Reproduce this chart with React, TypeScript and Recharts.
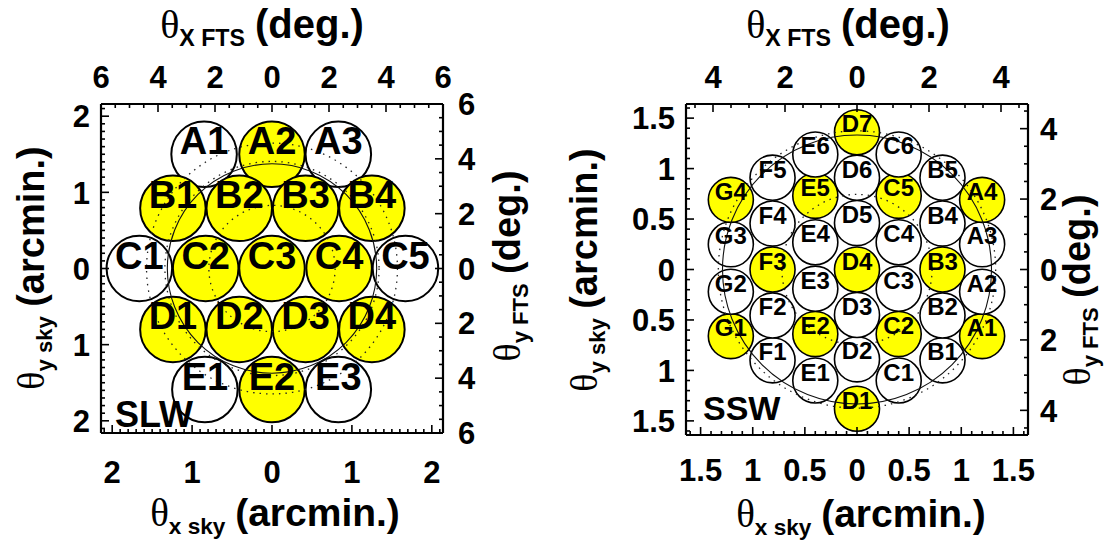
import React from 'react';
import { ScatterChart, Scatter, XAxis, YAxis } from 'recharts';

const FONT = '"Liberation Sans", Arial, Helvetica, sans-serif';
const SYM = '"Liberation Serif", "DejaVu Serif", serif';

// SLW detector array, positions in arcmin on the sky
const slwNames = ['A1', 'A2', 'A3', 'B1', 'B2', 'B3', 'B4', 'C1', 'C2', 'C3', 'C4', 'C5', 'D1', 'D2', 'D3', 'D4', 'E1', 'E2', 'E3'];
const slwX = [-0.85, 0, 0.83, -1.24, -0.41, 0.42, 1.25, -1.66, -0.83, 0, 0.84, 1.67, -1.24, -0.41, 0.42, 1.25, -0.84, 0, 0.83];
const slwY = [1.5, 1.5, 1.5, 0.79, 0.79, 0.79, 0.79, 0, 0, 0, 0, 0, -0.8, -0.8, -0.8, -0.8, -1.59, -1.59, -1.59];
const slwYellow = ['A2', 'B1', 'B2', 'B3', 'B4', 'C2', 'C3', 'C4', 'D1', 'D2', 'D3', 'D4', 'E2'];
const slwBeamRadius = 0.41;
const slwFieldRadius = [1.31];
const slwDottedRadius = [0.79, 1.34, 1.57];

// SSW detector array, positions in arcmin on the sky
const sswNames = [
  'A1', 'A2', 'A3', 'A4',
  'B1', 'B2', 'B3', 'B4', 'B5',
  'C1', 'C2', 'C3', 'C4', 'C5', 'C6',
  'D1', 'D2', 'D3', 'D4', 'D5', 'D6', 'D7',
  'E1', 'E2', 'E3', 'E4', 'E5', 'E6',
  'F1', 'F2', 'F3', 'F4', 'F5',
  'G1', 'G2', 'G3', 'G4',
];
const sswX = [
  1.2, 1.2, 1.2, 1.2,
  0.82, 0.82, 0.82, 0.82, 0.82,
  0.4, 0.4, 0.4, 0.4, 0.4, 0.4,
  0, 0, 0, 0, 0, 0, 0,
  -0.4, -0.4, -0.4, -0.4, -0.4, -0.4,
  -0.81, -0.81, -0.81, -0.81, -0.81,
  -1.21, -1.21, -1.21, -1.21,
];
const sswY = [
  -0.66, -0.22, 0.25, 0.69,
  -0.9, -0.455, 0, 0.455, 0.91,
  -1.1, -0.64, -0.19, 0.27, 0.73, 1.14,
  -1.38, -0.89, -0.45, 0, 0.46, 0.91, 1.36,
  -1.1, -0.64, -0.19, 0.27, 0.73, 1.14,
  -0.9, -0.455, 0, 0.455, 0.91,
  -0.66, -0.22, 0.25, 0.69,
];
const sswYellow = ['A1', 'A4', 'B3', 'C2', 'C5', 'D1', 'D4', 'D7', 'E2', 'E5', 'F3', 'G1', 'G4'];
const sswBeamRadius = 0.216;
const sswFieldRadius = [1.29];
const sswDottedRadius = [0.72, 1.33];

// tick labels
const slwSkyTicks = [-2, -1, 0, 1, 2];
const slwFtsTicks = [-6, -4, -2, 0, 2, 4, 6];
const sswSkyTicks = [-1.5, -1, -0.5, 0, 0.5, 1, 1.5];
const sswFtsTicks = [-4, -2, 0, 2, 4];

// FTS frame origin, used to anchor the secondary (degree) axes
const ftsOrigin = [{ fx: 0, fy: 0 }];

const minorTicks = (half: number, step: number) => {
  const out: number[] = [];
  const n = Math.floor(half / step + 1e-6);
  for (let i = -n; i <= n; i++) out.push(Math.round(i * step * 1000) / 1000);
  return out;
};

const fmt = (v: number) => String(Math.abs(v));

// edge = pixel position of the plot border on that side (inward ticks, labels outside)
function makeTick(side: string, majors: number[], gap: number, edge: number) {
  const fs = 31;
  return (p: any) => {
    const { x, y, payload } = p;
    const v = payload.value;
    const major = majors.some((m) => Math.abs(m - v) < 1e-6);
    const len = major ? 8 : 4;
    let line: number[] = [];
    let tx = x;
    let ty = y;
    let anchor = 'middle';
    if (side === 'bottom') { line = [x, edge, x, edge - len]; ty = edge + gap + fs * 0.72; }
    if (side === 'top') { line = [x, edge, x, edge + len]; ty = edge - gap; }
    if (side === 'left') { line = [edge, y, edge + len, y]; tx = edge - gap; ty = y + fs * 0.36; anchor = 'end'; }
    if (side === 'right') { line = [edge, y, edge - len, y]; tx = edge + gap; ty = y + fs * 0.36; anchor = 'start'; }
    return (
      <g>
        <line x1={line[0]} y1={line[1]} x2={line[2]} y2={line[3]} stroke="#000" strokeWidth={1.6} />
        {major && (
          <text x={tx} y={ty} textAnchor={anchor} fontFamily={FONT} fontWeight="bold" fontSize={fs} fill="#000">
            {fmt(v)}
          </text>
        )}
      </g>
    );
  };
}

function AxisTitle({ x, y, sub, rest, fs, rotate }: any) {
  return (
    <text
      x={x}
      y={y}
      textAnchor="middle"
      fontFamily={FONT}
      fontWeight="bold"
      fontSize={fs}
      fill="#000"
      transform={rotate ? `rotate(-90 ${x} ${y})` : undefined}
    >
      <tspan fontFamily={SYM} fontWeight="normal">θ</tspan>
      <tspan fontSize={fs * 0.58} dy={fs * 0.2}>{sub}</tspan>
      <tspan dy={-fs * 0.2} dx={fs * 0.25}>{rest}</tspan>
    </text>
  );
}

function Panel(props: any) {
  const { left, width, height, axes, skyHalf, ftsHalfX, ftsHalfY, skyTicks, ftsTicks, skyMinor, ftsMinor, gaps,
    names, xs, ys, yellow, beamR, field, dotted, labelFs, strokeW } = props;
  const plotW = width - axes.left - axes.right;
  const ppu = plotW / (2 * skyHalf[0]);
  const edges = { top: axes.top, bottom: height - axes.bottom, left: axes.left, right: width - axes.right };
  const beams = names.map((n: string, i: number) => ({ name: n, x: xs[i], y: ys[i], lit: yellow.includes(n) }));
  const rings = field.map((r: number) => ({ x: 0, y: 0, r }));
  const dots = dotted.map((r: number) => ({ x: 0, y: 0, r }));
  const axisLine = { stroke: '#000', strokeWidth: 2.2 };
  return (
    <div style={{ position: 'absolute', left, top: 0 }}>
      <ScatterChart width={width} height={height} margin={{ top: 0, right: 0, bottom: 0, left: 0 }}>
        <XAxis xAxisId="fts" orientation="top" type="number" dataKey="fx" scale="linear" domain={[-ftsHalfX, ftsHalfX]}
          ticks={ftsMinor} interval={0} height={axes.top} tickSize={0} tickMargin={0} tickLine={false}
          axisLine={axisLine} tick={makeTick('top', ftsTicks, gaps.top, edges.top)} allowDataOverflow />
        <XAxis xAxisId="sky" orientation="bottom" type="number" dataKey="x" scale="linear" domain={[-skyHalf[0], skyHalf[0]]}
          ticks={skyMinor} interval={0} height={axes.bottom} tickSize={0} tickMargin={0} tickLine={false}
          axisLine={axisLine} tick={makeTick('bottom', skyTicks, gaps.bottom, edges.bottom)} allowDataOverflow />
        <YAxis yAxisId="sky" orientation="left" type="number" dataKey="y" domain={[-skyHalf[1], skyHalf[1]]}
          ticks={skyMinor.filter((t: number) => Math.abs(t) <= skyHalf[1])} interval={0} width={axes.left}
          tickSize={0} tickMargin={0} tickLine={false} axisLine={axisLine}
          tick={makeTick('left', skyTicks, gaps.left, edges.left)} allowDataOverflow />
        <YAxis yAxisId="fts" orientation="right" type="number" dataKey="fy" domain={[-ftsHalfY, ftsHalfY]}
          ticks={ftsMinor.filter((t: number) => Math.abs(t) <= ftsHalfY)} interval={0} width={axes.right}
          tickSize={0} tickMargin={0} tickLine={false} axisLine={axisLine}
          tick={makeTick('right', ftsTicks, gaps.right, edges.right)} allowDataOverflow />
        <Scatter xAxisId="fts" yAxisId="fts" data={ftsOrigin} isAnimationActive={false}
          shape={() => <g />} />
        <Scatter xAxisId="sky" yAxisId="sky" data={beams} isAnimationActive={false}
          shape={(p: any) => (
            <circle cx={p.cx} cy={p.cy} r={beamR * ppu} fill={p.payload.lit ? '#ffff00' : '#ffffff'}
              stroke="#000" strokeWidth={strokeW} />
          )} />
        <Scatter xAxisId="sky" yAxisId="sky" data={dots} isAnimationActive={false}
          shape={(p: any) => (
            <circle cx={p.cx} cy={p.cy} r={p.payload.r * ppu} fill="none" stroke="#222"
              strokeWidth={1.3} strokeDasharray="1.5 5" />
          )} />
        <Scatter xAxisId="sky" yAxisId="sky" data={rings} isAnimationActive={false}
          shape={(p: any) => (
            <circle cx={p.cx} cy={p.cy} r={p.payload.r * ppu} fill="none" stroke="#111" strokeWidth={1.1} />
          )} />
        <Scatter xAxisId="sky" yAxisId="sky" data={beams} isAnimationActive={false}
          shape={(p: any) => (
            <text x={p.cx} y={p.cy} textAnchor="middle" fontFamily={FONT} fontWeight="bold" fontSize={labelFs} fill="#000">
              {p.payload.name}
            </text>
          )} />
      </ScatterChart>
    </div>
  );
}

export default function App() {
  return (
    <div style={{ position: 'absolute', left: 0, top: 0, width: 1107, height: 540, background: '#fff', overflow: 'hidden' }}>
      <Panel
        left={0} width={550} height={540}
        axes={{ top: 104, bottom: 107, left: 101, right: 107 }}
        skyHalf={[2.14, 2.16]} ftsHalfX={6} ftsHalfY={6}
        skyTicks={slwSkyTicks} ftsTicks={slwFtsTicks}
        skyMinor={minorTicks(2.1, 0.1)} ftsMinor={minorTicks(6, 0.5)}
        gaps={{ bottom: 28, top: 16, left: 11, right: 15 }}
        names={slwNames} xs={slwX} ys={slwY} yellow={slwYellow}
        beamR={slwBeamRadius} field={slwFieldRadius} dotted={slwDottedRadius}
        labelFs={38} strokeW={2}
      />
      <Panel
        left={553} width={554} height={540}
        axes={{ top: 104, bottom: 105, left: 133, right: 79 }}
        skyHalf={[1.64, 1.64]} ftsHalfX={4.75} ftsHalfY={4.7}
        skyTicks={sswSkyTicks} ftsTicks={sswFtsTicks}
        skyMinor={minorTicks(1.6, 0.1)} ftsMinor={minorTicks(4.5, 0.5)}
        gaps={{ bottom: 24, top: 16, left: 11, right: 12 }}
        names={sswNames} xs={sswX} ys={sswY} yellow={sswYellow}
        beamR={sswBeamRadius} field={sswFieldRadius} dotted={sswDottedRadius}
        labelFs={24} strokeW={1.6}
      />
      <svg width={1107} height={540} style={{ position: 'absolute', left: 0, top: 0, pointerEvents: 'none' }}>
        <AxisTitle x={262} y={38} sub="X FTS" rest="(deg.)" fs={40} />
        <AxisTitle x={275} y={526} sub="x sky" rest="(arcmin.)" fs={39} />
        <AxisTitle x={44} y={268} sub="y sky" rest="(arcmin.)" fs={38} rotate />
        <AxisTitle x={520} y={266} sub="y FTS" rest="(deg.)" fs={38} rotate />
        <AxisTitle x={848} y={38} sub="X FTS" rest="(deg.)" fs={40} />
        <AxisTitle x={861} y={527} sub="x sky" rest="(arcmin.)" fs={39} />
        <AxisTitle x={597} y={270} sub="y sky" rest="(arcmin.)" fs={38} rotate />
        <AxisTitle x={1090} y={290} sub="y FTS" rest="(deg.)" fs={38} rotate />
        <text x={115} y={427} fontFamily={FONT} fontWeight="bold" fontSize={36} fill="#000">SLW</text>
        <text x={703} y={420} fontFamily={FONT} fontWeight="bold" fontSize={34} fill="#000">SSW</text>
      </svg>
    </div>
  );
}
